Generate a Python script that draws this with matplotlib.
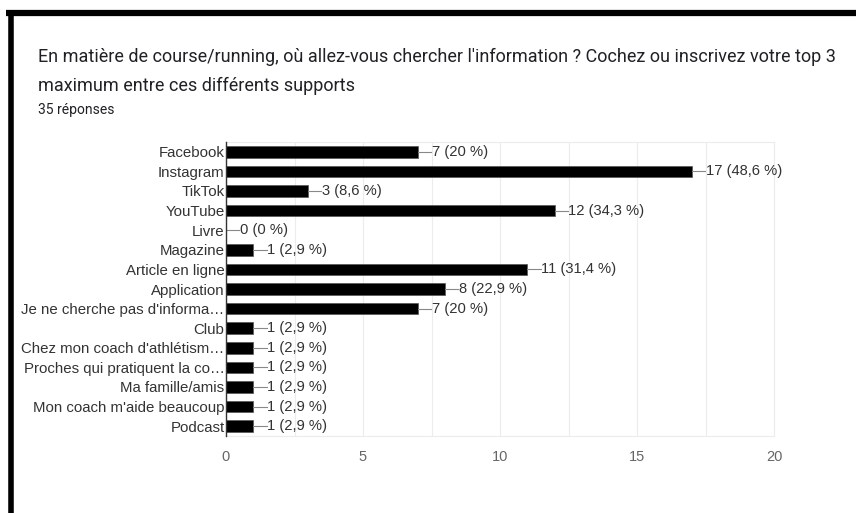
import matplotlib.pyplot as plt
from matplotlib.lines import Line2D

# données du sondage
categories = ["Facebook", "Instagram", "TikTok", "YouTube", "Livre", "Magazine",
              "Article en ligne", "Application", "Je ne cherche pas d'informa…",
              "Club", "Chez mon coach d'athlétism…", "Proches qui pratiquent la co…",
              "Ma famille/amis", "Mon coach m'aide beaucoup", "Podcast"]
counts = [7, 17, 3, 12, 0, 1, 11, 8, 7, 1, 1, 1, 1, 1, 1]
labels = ["7 (20 %)", "17 (48,6 %)", "3 (8,6 %)", "12 (34,3 %)", "0 (0 %)", "1 (2,9 %)",
          "11 (31,4 %)", "8 (22,9 %)", "7 (20 %)", "1 (2,9 %)", "1 (2,9 %)", "1 (2,9 %)",
          "1 (2,9 %)", "1 (2,9 %)", "1 (2,9 %)"]
xticks = [0, 5, 10, 15, 20]

W, H = 856, 513
fig = plt.figure(figsize=(W / 100, H / 100), dpi=100)

# cadre noir (capture d'écran)
fig.add_artist(Line2D([6 / W, 1.0], [1 - 13 / H, 1 - 13 / H], color="black", lw=4.5,
                      solid_capstyle="butt"))
fig.add_artist(Line2D([10.5 / W, 10.5 / W], [0, 1 - 10 / H], color="black", lw=4.0,
                      solid_capstyle="butt"))

# titre
fig.text(38 / W, 1 - 57 / H, "En matière de course/running, où allez-vous chercher l'information ? Cochez ou inscrivez votre top 3",
         fontsize=13, family="Roboto", color="#202124", va="center")
fig.text(38 / W, 1 - 86 / H, "maximum entre ces différents supports",
         fontsize=13, family="Roboto", color="#202124", va="center")
fig.text(38 / W, 1 - 110 / H, "35 réponses", fontsize=10, family="Roboto", color="#202124", va="center")

# zone du graphique
x0, x1 = 226, 774
y0, y1 = 142, 436
ax = fig.add_axes([x0 / W, 1 - y1 / H, (x1 - x0) / W, (y1 - y0) / H])
n = len(categories)
pos = list(range(n))
ax.barh(pos, counts, height=0.6, color="black", edgecolor="#555555", linewidth=0.5, zorder=3)

for p, c, lab in zip(pos, counts, labels):
    ax.plot([c, c + 0.48], [p, p], color="#888888", lw=0.8, zorder=3)
    ax.text(c + 0.5, p, lab, va="center", ha="left", fontsize=10.6,
            family="Liberation Sans", color="#333333")

ax.set_xlim(0, 20)
ax.set_ylim(n - 0.5, -0.5)
ax.set_yticks(pos)
ax.set_yticklabels(categories, fontsize=10.8, family="Liberation Sans", color="#333333")
ax.set_xticks(xticks)
ax.set_xticklabels([str(t) for t in xticks], fontsize=10.5, family="Liberation Sans", color="#666666")
ax.set_xticks([2.5, 7.5, 12.5, 17.5], minor=True)
ax.tick_params(axis="both", which="both", length=0)
ax.tick_params(axis="x", pad=10)
ax.tick_params(axis="y", pad=1)
ax.grid(axis="x", which="both", color="#ececec", lw=0.8, zorder=0)
for s in ["top", "right", "bottom"]:
    ax.spines[s].set_color("#ececec")
    ax.spines[s].set_linewidth(0.8)
ax.spines["left"].set_color("#333333")
ax.spines["left"].set_linewidth(1.0)
ax.spines["left"].set_zorder(4)

fig.savefig("out.png", dpi=100)
